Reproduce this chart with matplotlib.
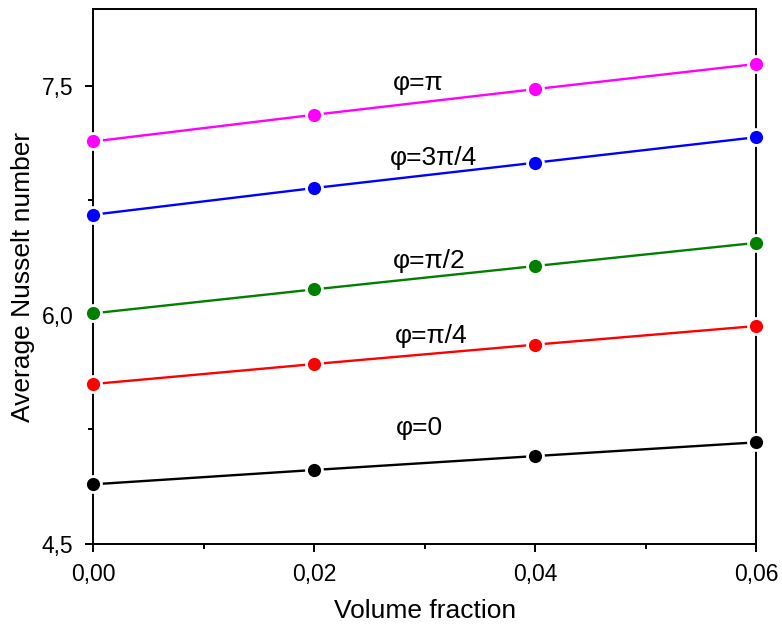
import matplotlib
matplotlib.use("Agg")
import matplotlib.pyplot as plt
from matplotlib.ticker import FixedLocator, FuncFormatter

plt.rcParams["font.family"] = ["Liberation Sans", "DejaVu Sans"]

# ── Dados ──
fracao = [0.00, 0.02, 0.04, 0.06]
nu_0 = [4.889, 4.983, 5.074, 5.164]
nu_pi4 = [5.546, 5.677, 5.804, 5.926]
nu_pi2 = [6.009, 6.166, 6.319, 6.471]
nu_3pi4 = [6.655, 6.830, 6.996, 7.163]
nu_pi = [7.135, 7.310, 7.478, 7.643]

rotulos = ["φ=0", "φ=π/4", "φ=π/2", "φ=3π/4", "φ=π"]
cores = ["black", "#FF0000", "#008000", "#0000FF", "#FF00FF"]
series = [nu_0, nu_pi4, nu_pi2, nu_3pi4, nu_pi]

# posição dos textos (x, y em coordenadas de dados)
pos_rotulos = [(0.0295, 5.26), (0.0306, 5.86), (0.0304, 6.353),
               (0.0308, 7.03), (0.0294, 7.517)]

fig = plt.figure(figsize=(7.82, 6.30), dpi=100)
ax = fig.add_axes([0.119, 0.137, 0.848, 0.848])

for y, cor in zip(series, cores):
    ax.plot(fracao, y, color=cor, linewidth=1.7, marker="o",
            markersize=11.5, markerfacecolor=cor, markeredgecolor="white",
            markeredgewidth=2, clip_on=False, zorder=3)

for texto, (px, py) in zip(rotulos, pos_rotulos):
    ax.text(px, py, texto, fontsize=19, ha="center", va="center")

ax.set_xlim(0, 0.06)
ax.set_ylim(4.5, 8.0)

ax.xaxis.set_major_locator(FixedLocator([0, 0.02, 0.04, 0.06]))
ax.xaxis.set_minor_locator(FixedLocator([0.01, 0.03, 0.05]))
ax.yaxis.set_major_locator(FixedLocator([4.5, 6.0, 7.5]))
ax.yaxis.set_minor_locator(FixedLocator([5.25, 6.75]))

ax.xaxis.set_major_formatter(FuncFormatter(lambda v, p: f"{v:.2f}".replace(".", ",")))
ax.yaxis.set_major_formatter(FuncFormatter(lambda v, p: f"{v:.1f}".replace(".", ",")))

ax.tick_params(which="major", direction="out", length=6, width=1.4,
               labelsize=16.5, pad=8, top=False, right=False)
ax.tick_params(which="minor", direction="out", length=3.5, width=1.4,
               top=False, right=False)

for lado in ax.spines.values():
    lado.set_linewidth(1.4)

ax.set_xlabel("Volume fraction", fontsize=19, labelpad=9)
ax.set_ylabel("Average Nusselt number", fontsize=19, labelpad=5)

fig.savefig("out.png", dpi=100)
